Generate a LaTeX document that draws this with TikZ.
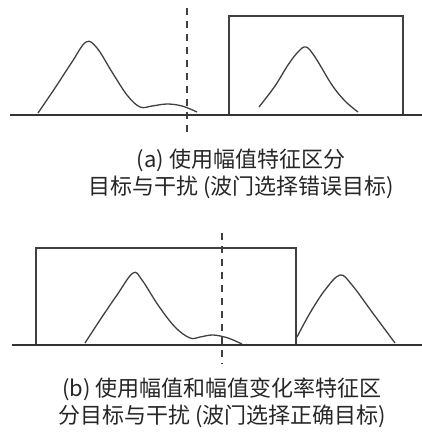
\documentclass[tikz,border=0pt]{standalone}
\usepackage{fontspec}
\newfontfamily\cjk{Noto Sans CJK SC}
\usetikzlibrary{positioning}
\tikzset{
  axis/.style={draw=black!80, line width=1.4pt},
  gatebox/.style={draw=black!75, line width=1.2pt},
  pulse/.style={draw=black!75, line width=1.3pt, smooth, tension=0.6},
  cut/.style={draw=black!75, line width=1.4pt, dash pattern=on 7pt off 6pt},
  caption/.style={align=center, text=black!85, inner sep=0pt,
                  font=\cjk\fontsize{22}{27}\selectfont}
}
\begin{document}
\begin{tikzpicture}[x=1pt,y=-1pt]
  \useasboundingbox (0,0) rectangle (422,432);

  % (a) gate on the wrong target
  \draw[cut] (187,8) -- (187,136);
  \draw[gatebox] (229,115) -- (229,16) -- (403,16) -- (403,115);
  \draw[pulse] plot coordinates {(38,113) (55,88) (72,62) (86,42) (97,48)
    (112,72) (127,95) (140,107) (152,106) (167,104) (182,106) (197,112)};
  \draw[pulse] plot coordinates {(259,107) (275,86) (288,65) (298,52)
    (306,47) (315,57) (332,85) (345,101) (358,112)};
  \draw[axis] (10,115) -- (422,115);
  \node[caption] (capa) at (241,174) {(a) 使用幅值特征区分\\目标与干扰 (波门选择错误目标)};

  % (b) gate on the correct target
  \draw[cut] (222,233) -- (222,364);
  \draw[gatebox] (36,345) -- (36,248) -- (296,248) -- (296,345);
  \draw[pulse] plot coordinates {(85,343) (100,320) (117,295) (133,273)
    (142,280) (158,305) (175,327) (190,338) (200,337) (213,335) (228,338) (242,344)};
  \draw[pulse] plot coordinates {(297,337) (310,313) (325,290) (340,275)
    (352,285) (372,312) (395,343)};
  \draw[axis] (12,345) -- (422,345);
  \node[caption] (capb) at (222,403) {(b) 使用幅值和幅值变化率特征区\\分目标与干扰 (波门选择正确目标)};
\end{tikzpicture}
\end{document}
